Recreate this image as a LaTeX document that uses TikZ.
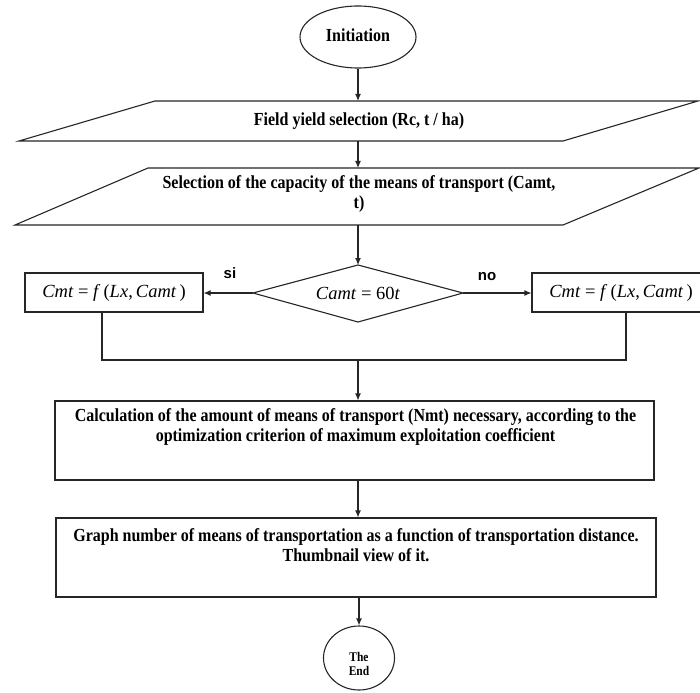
\documentclass[tikz,border=0pt]{standalone}
\usepackage{graphicx}
\usepackage{fontspec}
\setmainfont{Liberation Serif}
\newfontfamily\sansf{Liberation Sans}
\usetikzlibrary{arrows.meta,shapes.geometric}
\newcommand\tl[1]{\scalebox{1}[1.15]{#1}}
\begin{document}
\begin{tikzpicture}[x=1pt,y=-1pt,
  line/.style={draw=black!85, line width=1.1pt},
  arr/.style={line, -{Latex[length=7pt,width=6pt]}},
  txt/.style={font=\fontsize{16}{20}\selectfont\bfseries, align=center, inner sep=0pt},
  frm/.style={line, fill=white, inner sep=0pt},
  mth/.style={font=\fontsize{18.5}{20}\selectfont, inner sep=0pt},
  lbl/.style={font=\sansf\bfseries\fontsize{15}{18}\selectfont, inner sep=0pt}]
\useasboundingbox (0,0) rectangle (700,692);
\fill[white] (0,0) rectangle (700,692);

% start
\node[frm, ellipse, minimum width=116pt, minimum height=62pt] (start) at (358,37) {};
\node[txt] (startt) at (358,35) {\tl{Initiation}};

% parallelogram 1
\coordinate (p1a) at (155,101);
\coordinate (p1b) at (698,101);
\coordinate (p1c) at (563,141);
\coordinate (p1d) at (19,141);
\coordinate (p1top) at (358,101);
\coordinate (p1bot) at (358,141);
\draw[line] (p1a) -- (p1b) -- (p1c) -- (p1d) -- cycle;
\node[txt] (p1t) at (359,121) {\tl{Field yield selection (Rc, t / ha)}};

% parallelogram 2
\coordinate (p2a) at (148,168);
\coordinate (p2b) at (699,168);
\coordinate (p2c) at (563,225);
\coordinate (p2d) at (15,225);
\coordinate (p2top) at (358,168);
\coordinate (p2bot) at (358,225);
\draw[line] (p2a) -- (p2b) -- (p2c) -- (p2d) -- cycle;
\node[txt] (p2t) at (359,193.5) {\tl{Selection of the capacity of the means of transport (Camt,}\\\tl{t)}};

\draw[arr] (start.south) -- (p1top);
\draw[arr] (p1bot) -- (p2top);

% decision
\coordinate (dT) at (358,265);
\coordinate (dR) at (463,293);
\coordinate (dB) at (358,322);
\coordinate (dL) at (253,293);
\draw[line] (dT) -- (dR) -- (dB) -- (dL) -- cycle;
\node[mth] (dtext) at (358,293) {\textit{Camt} = 60\textit{t}};
\draw[arr] (p2bot) -- (dT);

% side boxes
\node[frm, mth, minimum width=178pt, minimum height=39pt] (lbox) at (114,292.5) {\textit{Cmt} = \textit{f}\,(\textit{Lx},\,\textit{Camt}\,)};
\node[frm, mth, minimum width=178pt, minimum height=39pt] (rbox) at (621,292.5) {\textit{Cmt} = \textit{f}\,(\textit{Lx},\,\textit{Camt}\,)};
\draw[arr] (dL) -- (dL -| lbox.east);
\draw[arr] (dR) -- (dR -| rbox.west);
\node[lbl] (si) at (230,273) {si};
\node[lbl] (no) at (487,277) {no};

% merge
\coordinate (mL) at (102,360);
\coordinate (mR) at (626,360);
\coordinate (mC) at (358,360);
\draw[line] (lbox.south -| mL) -- (mL) -- (mR) -- (rbox.south -| mR);

% calculation
\node[frm, minimum width=599pt, minimum height=79pt] (calc) at (354.5,440.5) {};
\node[txt] (calct) at (355.5,427) {\tl{Calculation of the amount of means of transport (Nmt) necessary, according to the}\\\tl{optimization criterion of maximum exploitation coefficient}};
\draw[arr] (mC) -- (calc.north -| mC);

% graph
\node[frm, minimum width=600pt, minimum height=79pt] (graph) at (356,557.5) {};
\node[txt] (grapht) at (356,545) {\tl{Graph number of means of transportation as a function of transportation distance.}\\\tl{Thumbnail view of it.}};
\draw[arr] (calc.south -| mC) -- (graph.north -| mC);

% end
\node[frm, ellipse, minimum width=71pt, minimum height=64pt] (end) at (359,658) {};
\node[txt, font=\fontsize{11.5}{14}\selectfont\bfseries] (endt) at (359,664) {\tl{The}\\\tl{End}};
\draw[arr] (graph.south -| end.north) -- (end.north);
\end{tikzpicture}
\end{document}
